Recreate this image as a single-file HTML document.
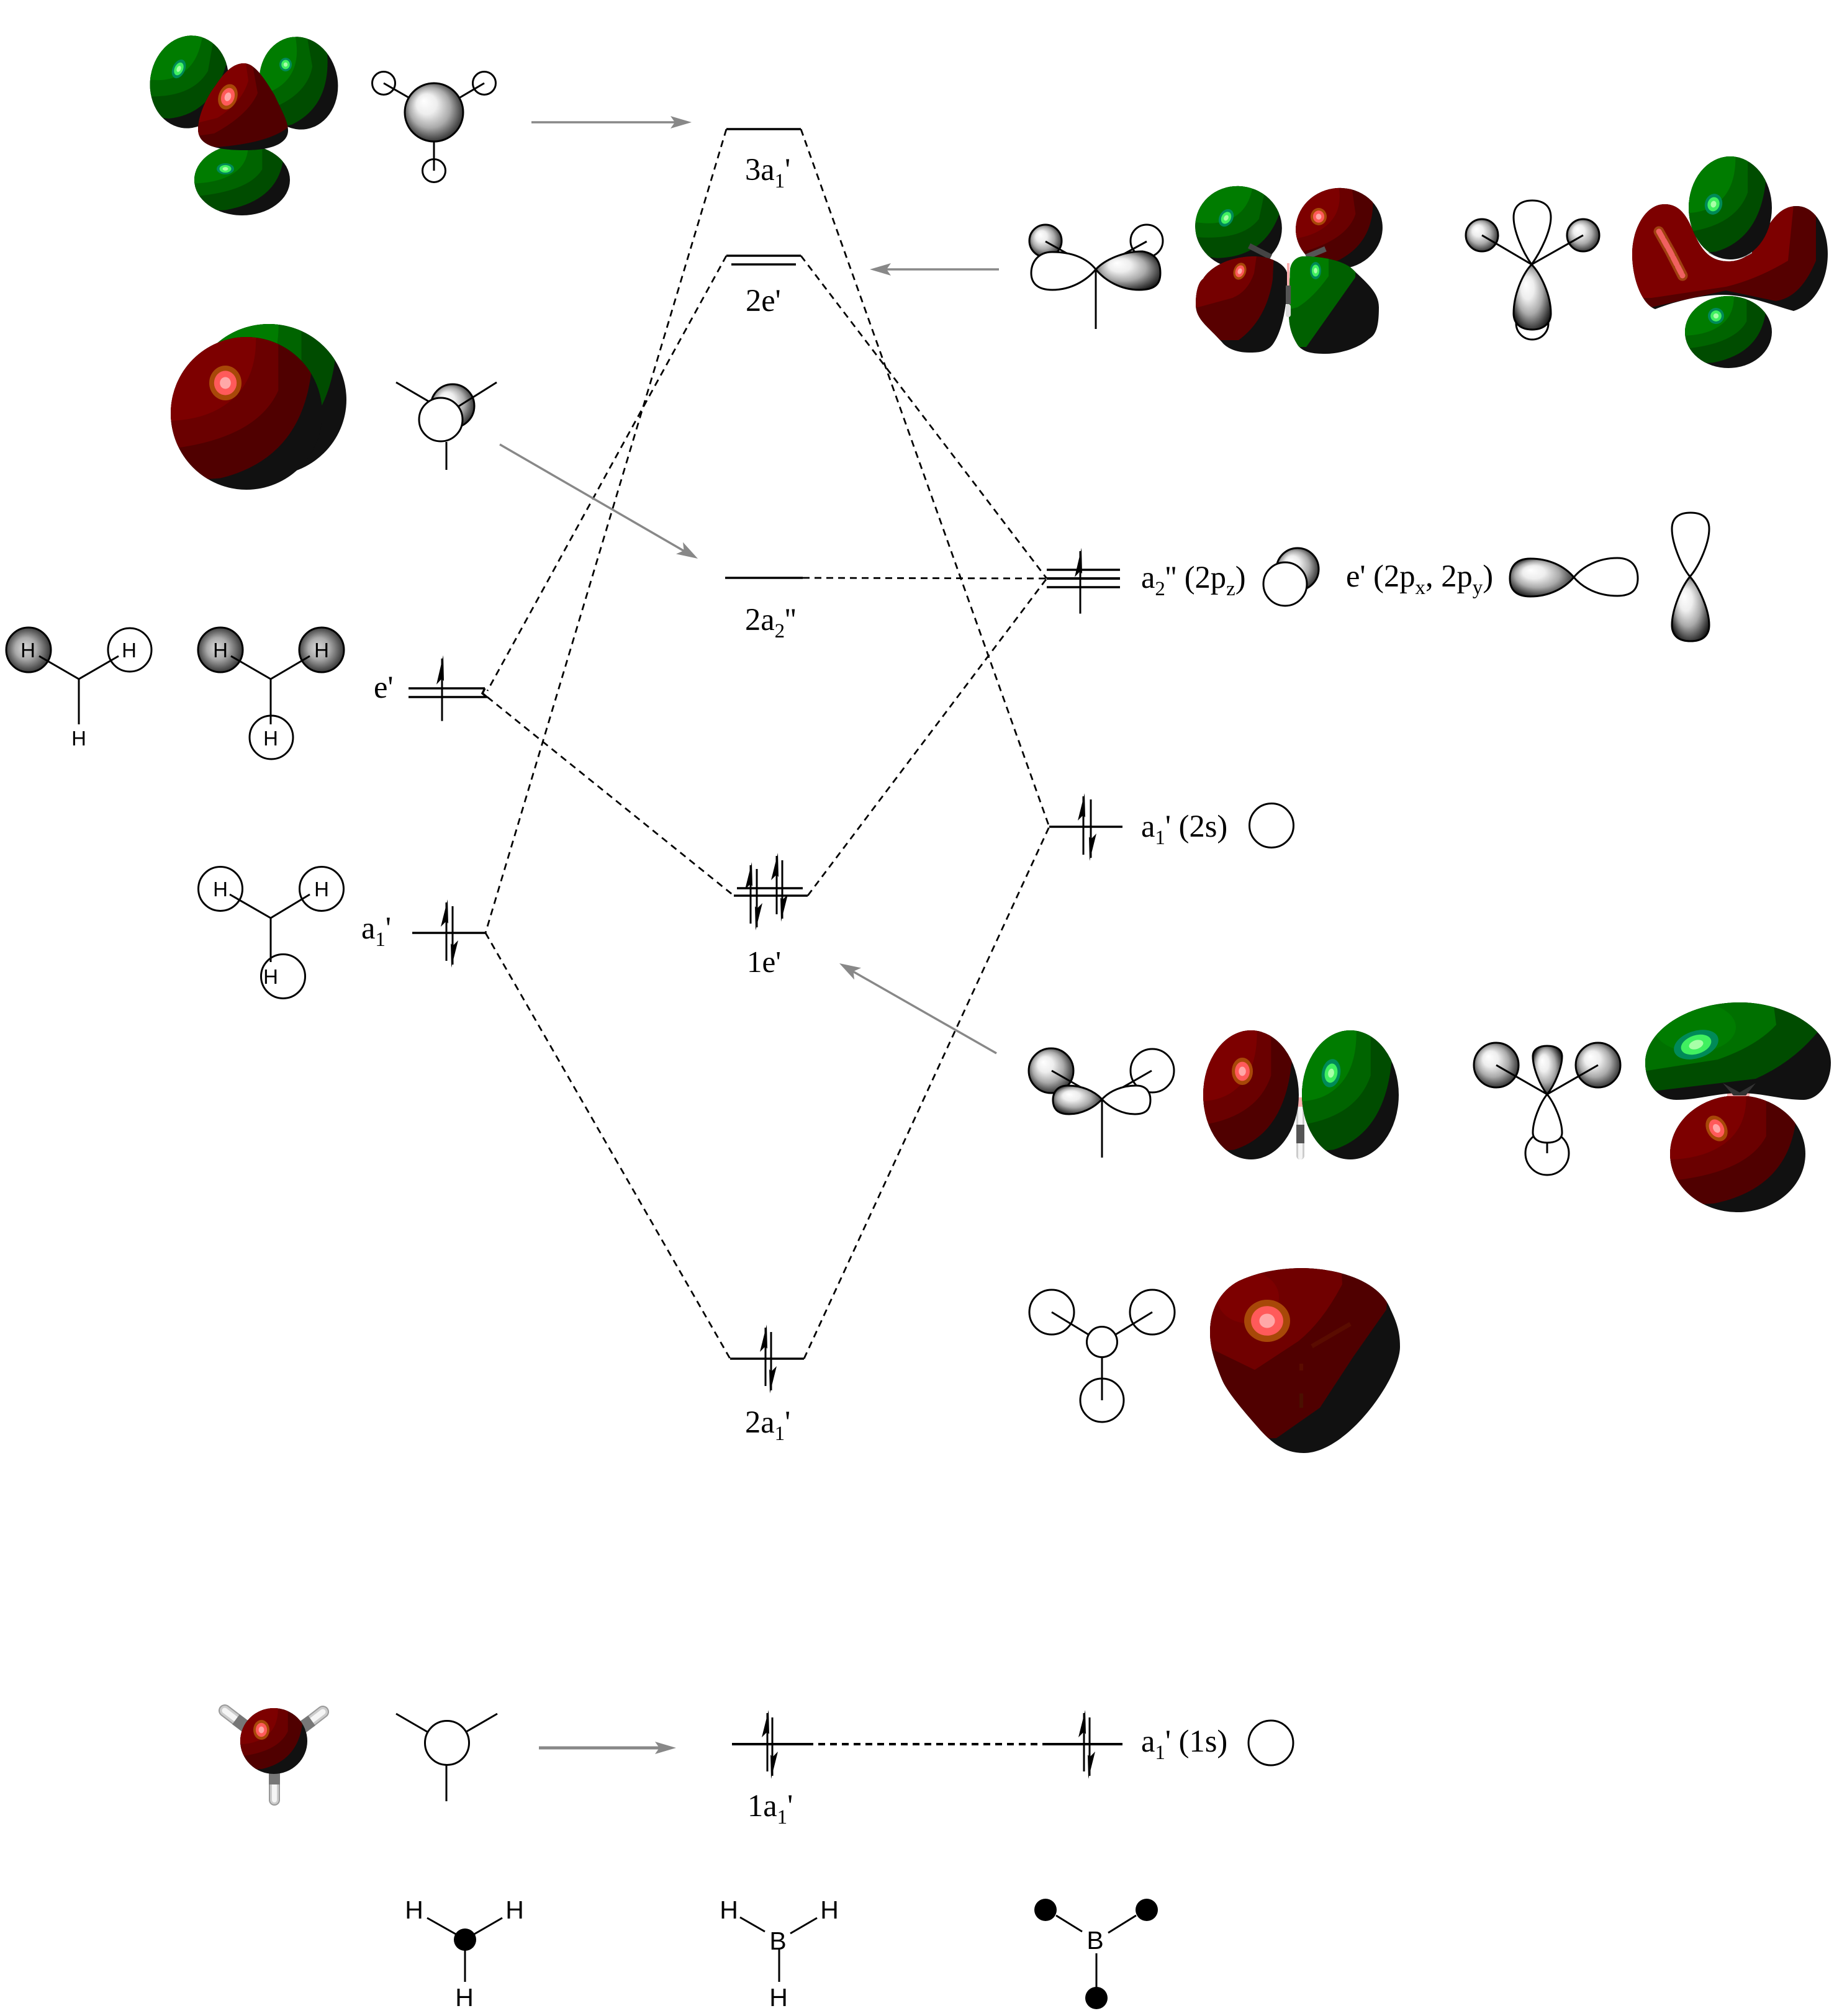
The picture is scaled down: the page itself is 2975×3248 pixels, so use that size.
<!DOCTYPE html>
<html>
<head>
<meta charset="utf-8">
<title>BH3 MO diagram</title>
<style>
html,body{margin:0;padding:0;background:#fff}
svg{display:block}
.t{font-family:"Liberation Serif",serif;font-size:50.5px;fill:#000}
.h{font-family:"Liberation Sans",sans-serif;font-size:33px;fill:#000;text-anchor:middle}
.H{font-family:"Liberation Sans",sans-serif;font-size:41px;fill:#000;text-anchor:middle}
.s{font-size:33px}
</style>
</head>
<body>
<svg width="2975" height="3248" viewBox="0 0 2975 3248" xmlns="http://www.w3.org/2000/svg">
<defs>
<radialGradient id="gw" cx=".5" cy=".5" r=".58" fx=".32" fy=".3">
<stop offset="0" stop-color="#fff"/><stop offset=".3" stop-color="#eee"/><stop offset=".6" stop-color="#aaa"/><stop offset=".86" stop-color="#444"/><stop offset="1" stop-color="#111"/>
</radialGradient>
<radialGradient id="gd" cx=".5" cy=".5" r=".6" fx=".4" fy=".45">
<stop offset="0" stop-color="#d8d8d8"/><stop offset=".4" stop-color="#aaa"/><stop offset=".8" stop-color="#444"/><stop offset="1" stop-color="#111"/>
</radialGradient>
<clipPath id="u"><circle r="1"/></clipPath>
<g id="G" clip-path="url(#u)">
<rect x="-1.1" y="-1.1" width="2.2" height="2.2" fill="#111"/>
<path d="M-1.1,-1.1 L.95,-1.1 L.85,-.5 Q.7,.6 -.35,.85 L-1.1,.9Z" fill="#004c00"/>
<path d="M-1.1,-1.1 L.42,-1.1 L.42,-.3 Q.15,.3 -.9,.45 L-1.1,.45Z" fill="#006400"/>
<path d="M-1.1,-1.1 L.12,-1.1 Q.17,-.4 -.3,-.1 Q-.6,.1 -1.1,.1Z" fill="#007c00"/>
</g>
<g id="R" clip-path="url(#u)">
<rect x="-1.1" y="-1.1" width="2.2" height="2.2" fill="#111"/>
<path d="M-1.1,-1.1 L.95,-1.1 L.85,-.5 Q.7,.6 -.35,.85 L-1.1,.9Z" fill="#500000"/>
<path d="M-1.1,-1.1 L.42,-1.1 L.42,-.3 Q.15,.3 -.9,.45 L-1.1,.45Z" fill="#6a0000"/>
<path d="M-1.1,-1.1 L.12,-1.1 Q.17,-.4 -.3,-.1 Q-.6,.1 -1.1,.1Z" fill="#7d0000"/>
</g>
<g id="gh"><circle r="1" fill="#008a58"/><circle r=".68" fill="#40f060"/><circle r=".32" fill="#a8ffa8"/></g>
<g id="rh"><circle r="1" fill="#a84808"/><circle r=".7" fill="#ff5a5a"/><circle r=".34" fill="#ffa8a8"/></g>
<g id="up">
<line x1="0" y1="0" x2="0" y2="94" stroke="#000" stroke-width="3"/>
<polygon points="2,-5 3,34 0,30 -9,39" fill="#000"/>
</g>
<clipPath id="c1"><path d="M393,102 C410,102 425,125 442,153 C452,175 464,195 464,210 C464,230 440,242 395,242 C350,242 319,235 319,208 C319,190 330,160 347,138 C360,118 375,102 393,102Z"/></clipPath>
<clipPath id="c2"><path d="M2681,329 C2650,329 2629,370 2629,409 C2629,450 2645,490 2666,498 C2700,485 2740,475 2775,475 C2815,475 2850,490 2889,501 C2925,490 2944,450 2944,409 C2944,370 2925,332 2894,332 C2865,332 2850,360 2837,383 C2825,410 2805,421 2784,421 C2760,421 2745,410 2732,383 C2720,355 2710,329 2681,329Z"/></clipPath>
<clipPath id="c3"><path d="M2100,2043 C2170,2045 2225,2070 2240,2110 C2252,2135 2255,2150 2255,2170 C2255,2220 2170,2341 2100,2341 C2065,2341 2045,2320 2030,2304 C2000,2270 1975,2240 1968,2222 C1955,2190 1949,2170 1949,2146 C1949,2110 1965,2080 1995,2064 C2025,2050 2060,2043 2100,2043Z"/></clipPath>
<clipPath id="c4"><path d="M2802,1615 C2880,1615 2949,1660 2949,1712 C2949,1745 2930,1771 2905,1772 C2870,1772 2840,1761 2802,1761 C2765,1761 2735,1772 2700,1772 C2670,1772 2650,1745 2650,1712 C2650,1660 2720,1615 2802,1615Z"/></clipPath>
<clipPath id="c5"><path d="M2021,413 C2045,413 2074,425 2074,445 C2074,480 2068,530 2050,555 C2040,568 2025,568 2012,568 C1990,568 1975,560 1968,551 C1945,525 1926,515 1926,490 C1926,470 1930,455 1938,449 C1950,430 1980,413 2021,413Z"/></clipPath>
<clipPath id="c6"><path d="M2100,413 C2130,413 2165,420 2179,434 C2200,455 2221,470 2221,495 C2221,530 2215,540 2205,546 C2190,560 2160,570 2135,570 C2115,570 2100,568 2091,557 C2080,540 2076,525 2076,505 C2076,470 2078,440 2078,434 C2080,420 2090,413 2100,413Z"/></clipPath>
</defs>

<rect width="2975" height="3248" fill="#fff"/>

<!-- correlation dashed lines -->
<g fill="none" stroke="#000" stroke-width="2.8" stroke-dasharray="11 8">
<line x1="1170" y1="208" x2="782" y2="1503"/>
<line x1="1290" y1="208" x2="1690" y2="1332"/>
<line x1="1170" y1="412" x2="785" y2="1113"/>
<line x1="1290" y1="412" x2="1686" y2="932"/>
<line x1="785" y1="1123" x2="1182" y2="1443"/>
<line x1="1301" y1="1443" x2="1686" y2="932"/>
<line x1="782" y1="1503" x2="1176" y2="2189"/>
<line x1="1295" y1="2189" x2="1690" y2="1332"/>
<line x1="1293" y1="931" x2="1686" y2="932"/>
<line x1="1299" y1="2810" x2="1681" y2="2810" stroke-width="4"/>
</g>

<!-- levels -->
<g stroke="#000" stroke-width="3.5" fill="none">
<line x1="1170" y1="208" x2="1290" y2="208"/>
<line x1="1170" y1="412" x2="1290" y2="412"/>
<line x1="1178" y1="426" x2="1282" y2="426"/>
<line x1="1168" y1="931" x2="1293" y2="931"/>
<line x1="1187" y1="1431" x2="1293" y2="1431"/>
<line x1="1182" y1="1443" x2="1301" y2="1443"/>
<line x1="1176" y1="2189" x2="1295" y2="2189"/>
<line x1="1179" y1="2810" x2="1299" y2="2810" stroke-width="4"/>
<line x1="1681" y1="2810" x2="1808" y2="2810" stroke-width="4"/>
<line x1="1686" y1="918" x2="1804" y2="918"/>
<line x1="1686" y1="932" x2="1804" y2="932" stroke-width="4"/>
<line x1="1686" y1="946" x2="1804" y2="946"/>
<line x1="1690" y1="1332" x2="1808" y2="1332"/>
<line x1="658" y1="1109" x2="781" y2="1109"/>
<polyline points="781,1109 777,1117 784,1123 658,1123"/>
<line x1="664" y1="1503" x2="782" y2="1503"/>
</g>

<!-- electrons -->
<use href="#up" transform="translate(712,1061) scale(1,1.07)"/>
<use href="#up" transform="translate(719,1454)"/>
<use href="#up" transform="translate(729,1554) rotate(180)"/>
<use href="#up" transform="translate(1209,1394)"/>
<use href="#up" transform="translate(1219,1494) rotate(180)"/>
<use href="#up" transform="translate(1251,1379)"/>
<use href="#up" transform="translate(1260,1480) rotate(180)"/>
<use href="#up" transform="translate(1233,2139)"/>
<use href="#up" transform="translate(1242,2240) rotate(180)"/>
<use href="#up" transform="translate(1236,2760)"/>
<use href="#up" transform="translate(1244,2861) rotate(180)"/>
<use href="#up" transform="translate(1746,2760)"/>
<use href="#up" transform="translate(1755,2861) rotate(180)"/>
<use href="#up" transform="translate(1740,888) scale(1,1.07)"/>
<use href="#up" transform="translate(1745,1283)"/>
<use href="#up" transform="translate(1757,1382) rotate(180)"/>

<!-- grey arrows -->
<g stroke="#888" stroke-width="3.5" fill="none">
<line x1="856" y1="197" x2="1090" y2="197"/>
<line x1="1609" y1="434" x2="1425" y2="434"/>
<line x1="805" y1="716" x2="1104" y2="889"/>
<line x1="1605" y1="1697" x2="1372" y2="1564"/>
<line x1="868" y1="2816" x2="1065" y2="2816" stroke-width="5"/>
</g>
<g fill="#888">
<polygon points="1114,197 1080,187 1087,197 1080,207"/>
<polygon points="1401,434 1435,424 1428,434 1435,444"/>
<polygon points="1124,900 1089,892.5 1101.5,887 1100,873.5"/>
<polygon points="1352,1552 1387,1559.4 1374.6,1565 1376,1578.4"/>
<polygon points="1089,2816 1055,2806 1062,2816 1055,2826"/>
</g>

<!-- text labels -->
<text class="t" x="1200" y="290">3a<tspan class="s" dy="12">1</tspan><tspan dy="-12">'</tspan></text>
<text class="t" x="1201" y="501">2e'</text>
<text class="t" x="1200" y="1015">2a<tspan class="s" dy="12">2</tspan><tspan dy="-12">''</tspan></text>
<text class="t" x="1203" y="1566" style="font-size:49px">1e'</text>
<text class="t" x="1200" y="2308">2a<tspan class="s" dy="12">1</tspan><tspan dy="-12">'</tspan></text>
<text class="t" x="1204" y="2926">1a<tspan class="s" dy="12">1</tspan><tspan dy="-12">'</tspan></text>
<text class="t" x="602" y="1124">e'</text>
<text class="t" x="582" y="1512">a<tspan class="s" dy="12">1</tspan><tspan dy="-12">'</tspan></text>
<text class="t" x="1838" y="947">a<tspan class="s" dy="12">2</tspan><tspan dy="-12">'' (2p</tspan><tspan class="s" dy="12">z</tspan><tspan dy="-12">)</tspan></text>
<text class="t" x="2168" y="945">e' (2p<tspan class="s" dy="12">x</tspan><tspan dy="-12">, 2p</tspan><tspan class="s" dy="12">y</tspan><tspan dy="-12">)</tspan></text>
<text class="t" x="1838" y="1348">a<tspan class="s" dy="12">1</tspan><tspan dy="-12">' (2s)</tspan></text>
<text class="t" x="1838" y="2822">a<tspan class="s" dy="12">1</tspan><tspan dy="-12">' (1s)</tspan></text>

<!-- 3a1' isosurface -->
<use href="#G" transform="translate(305,132) rotate(10) scale(63,75)"/>
<use href="#gh" transform="translate(288,111) rotate(25) scale(10,16)"/>
<use href="#G" transform="translate(481,134) rotate(-10) scale(63,75)"/>
<use href="#gh" transform="translate(460,104) scale(10,11)"/>
<use href="#G" transform="translate(390,290) scale(77,57)"/>
<use href="#gh" transform="translate(363,272) scale(14,9)"/>
<g clip-path="url(#c1)">
<rect x="300" y="90" width="180" height="170" fill="#111"/>
<path d="M310,95 L420,95 L470,200 Q440,230 350,237 L310,240Z" fill="#500000"/>
<path d="M310,95 L405,95 L415,150 Q400,185 345,215 L310,220Z" fill="#6b0000"/>
<path d="M310,95 L395,95 L400,130 Q390,165 350,190 L310,200Z" fill="#800000"/>
<use href="#rh" transform="translate(367,156) rotate(20) scale(15,21)"/>
</g>

<!-- 3a1' schematic -->
<g fill="none" stroke="#000" stroke-width="3">
<circle cx="618" cy="134" r="18.5"/><circle cx="780" cy="134" r="18.5"/><circle cx="699" cy="275" r="18.5"/>
<line x1="618" y1="134" x2="658" y2="157"/><line x1="780" y1="134" x2="741" y2="157"/><line x1="699" y1="228" x2="699" y2="275"/>
</g>
<circle cx="699" cy="181" r="47" fill="url(#gw)" stroke="#000" stroke-width="3"/>

<!-- 2a2'' isosurface -->
<use href="#G" transform="translate(433,644) scale(125,122)"/>
<use href="#R" transform="translate(397,666) scale(122,123)"/>
<use href="#rh" transform="translate(363,617) scale(26,28)"/>

<!-- 2a2'' schematic -->
<circle cx="729" cy="654" r="35" fill="url(#gw)" stroke="#000" stroke-width="3"/>
<g stroke="#000" stroke-width="3" fill="none">
<line x1="638" y1="616" x2="691" y2="647"/><line x1="800" y1="616" x2="738" y2="655"/><line x1="719" y1="712" x2="719" y2="757"/>
</g>
<circle cx="710" cy="676" r="35" fill="#fff" stroke="#000" stroke-width="3"/>

<!-- H3 fragments -->
<circle cx="46" cy="1047" r="36" fill="url(#gd)" stroke="#000" stroke-width="3"/>
<circle cx="209" cy="1047" r="35" fill="none" stroke="#000" stroke-width="3"/>
<circle cx="355" cy="1047" r="36" fill="url(#gd)" stroke="#000" stroke-width="3"/>
<circle cx="518" cy="1047" r="36" fill="url(#gd)" stroke="#000" stroke-width="3"/>
<circle cx="437" cy="1188" r="35" fill="none" stroke="#000" stroke-width="3"/>
<circle cx="355" cy="1432" r="35.5" fill="none" stroke="#000" stroke-width="3"/>
<circle cx="518" cy="1432" r="35.5" fill="none" stroke="#000" stroke-width="3"/>
<circle cx="456" cy="1573" r="35.5" fill="none" stroke="#000" stroke-width="3"/>
<g stroke="#000" stroke-width="3" fill="none">
<polyline points="63,1057 127,1094 191,1057"/><line x1="127" y1="1094" x2="127" y2="1167"/>
<polyline points="372,1057 436,1094 499,1057"/><line x1="436" y1="1094" x2="436" y2="1167"/>
<polyline points="370,1441 436,1479 499,1441"/><line x1="436" y1="1479" x2="436" y2="1550"/>
</g>
<text class="h" x="45" y="1059">H</text><text class="h" x="208" y="1059">H</text><text class="h" x="127" y="1201">H</text>
<text class="h" x="355" y="1059">H</text><text class="h" x="518" y="1059">H</text><text class="h" x="436" y="1201">H</text>
<text class="h" x="355" y="1444">H</text><text class="h" x="518" y="1444">H</text><text class="h" x="436" y="1585">H</text>

<!-- 2e' schematic 1 -->
<circle cx="1684" cy="388" r="26" fill="url(#gw)" stroke="#000" stroke-width="3"/>
<circle cx="1847" cy="388" r="26" fill="none" stroke="#000" stroke-width="3"/>
<g stroke="#000" stroke-width="3" fill="none">
<polyline points="1684,389 1765,434 1847,389"/><line x1="1765" y1="434" x2="1765" y2="530"/>
</g>
<path d="M1765,434 C1750,415 1725,406 1695,406 C1670,406 1661,425 1661,440 C1661,455 1670,467 1695,467 C1725,467 1750,452 1765,434Z" fill="#fff" stroke="#000" stroke-width="3"/>
<path d="M1765,434 C1780,418 1810,405 1840,405 C1860,408 1869,420 1869,440 C1869,458 1860,467 1835,467 C1805,467 1780,452 1765,434Z" fill="url(#gw)" stroke="#000" stroke-width="3"/>

<!-- 2e' isosurface 1 -->
<use href="#G" transform="translate(1995,366) rotate(12) scale(70,66)"/>
<use href="#gh" transform="translate(1975,351) rotate(30) scale(11,15)"/>
<use href="#R" transform="translate(2157,368) rotate(-8) scale(70,65)"/>
<use href="#rh" transform="translate(2124,349) scale(13,14)"/>
<line x1="2012" y1="396" x2="2047" y2="414" stroke="#444" stroke-width="9"/>
<line x1="2135" y1="401" x2="2104" y2="414" stroke="#555" stroke-width="9"/>
<g clip-path="url(#c5)">
<rect x="1920" y="405" width="160" height="170" fill="#111"/>
<path d="M1920,405 L2052,405 L2050,450 Q2040,515 1995,548 L1960,548 L1920,520Z" fill="#580000"/>
<path d="M1920,405 L2025,405 L2020,440 Q2010,470 1985,480 L1930,495 L1920,495Z" fill="#750000"/>
<use href="#rh" transform="translate(1997,437) rotate(20) scale(10,14)"/>
</g>
<g clip-path="url(#c6)">
<rect x="2070" y="405" width="160" height="170" fill="#111"/>
<path d="M2070,405 L2185,405 L2183,447 L2104,559 L2092,559 L2070,530Z" fill="#006000"/>
<path d="M2070,405 L2140,405 L2140,445 Q2115,480 2090,495 L2070,500Z" fill="#007c00"/>
<use href="#gh" transform="translate(2119,436) scale(9,14)"/>
</g>
<rect x="2073" y="424" width="4" height="36" fill="#ffb0b0"/>
<rect x="2071" y="460" width="8" height="30" fill="#555"/>
<rect x="2071" y="490" width="8" height="21" rx="4" fill="#ddd"/>

<!-- 2e' schematic 2 -->
<circle cx="2387" cy="379" r="26" fill="url(#gw)" stroke="#000" stroke-width="3"/>
<circle cx="2550" cy="379" r="26" fill="url(#gw)" stroke="#000" stroke-width="3"/>
<circle cx="2468" cy="521" r="26" fill="none" stroke="#000" stroke-width="3"/>
<g stroke="#000" stroke-width="3" fill="none">
<polyline points="2387,379 2467,426 2550,379"/>
</g>
<path d="M2467,426 C2452,405 2438,372 2438,350 C2438,330 2452,323 2468,323 C2484,323 2498,330 2498,350 C2498,372 2482,405 2467,426Z" fill="#fff" stroke="#000" stroke-width="3"/>
<path d="M2467,426 C2482,442 2498,475 2498,505 C2498,522 2485,531 2468,531 C2450,531 2438,522 2438,505 C2438,475 2452,442 2467,426Z" fill="url(#gw)" stroke="#000" stroke-width="3"/>

<!-- 2e' isosurface 2 -->
<g clip-path="url(#c2)">
<rect x="2620" y="320" width="330" height="190" fill="#111"/>
<path d="M2620,320 L2925,320 L2925,420 Q2900,480 2860,485 L2780,468 L2660,495 L2620,495Z" fill="#550000"/>
<path d="M2620,320 L2890,320 L2880,420 Q2830,450 2780,462 L2660,480 L2620,480Z" fill="#7d0000"/>
<path d="M2672,373 L2690,405 L2710,444" fill="none" stroke="#a04010" stroke-width="17" stroke-linecap="round"/>
<path d="M2672,373 L2690,405 L2710,444" fill="none" stroke="#f06060" stroke-width="9" stroke-linecap="round" stroke-dasharray="12 4"/>
</g>
<path d="M2752,390 Q2784,440 2822,390 L2822,408 Q2790,428 2752,408Z" fill="#aaa"/>
<use href="#G" transform="translate(2787,335) scale(67,83)"/>
<use href="#gh" transform="translate(2760,329) rotate(15) scale(14,17)"/>
<use href="#G" transform="translate(2784,535) scale(70,58)"/>
<use href="#gh" transform="translate(2764,509) scale(13,13)"/>

<!-- a2'' p orbital -->
<circle cx="2090" cy="917" r="34" fill="url(#gw)" stroke="#000" stroke-width="3"/>
<circle cx="2070" cy="941" r="35" fill="#fff" stroke="#000" stroke-width="3"/>
<path d="M2535,930 C2520,912 2495,900 2465,900 C2440,900 2432,915 2432,932 C2432,950 2442,961 2465,961 C2495,961 2520,948 2535,930Z" fill="url(#gw)" stroke="#000" stroke-width="3"/>
<path d="M2535,930 C2550,912 2575,899 2605,899 C2630,899 2638,915 2638,932 C2638,950 2628,960 2605,960 C2575,960 2550,948 2535,930Z" fill="#fff" stroke="#000" stroke-width="3"/>
<path d="M2722,929 C2708,912 2693,875 2693,852 C2693,833 2706,826 2723,826 C2740,826 2753,833 2753,852 C2753,875 2737,912 2722,929Z" fill="#fff" stroke="#000" stroke-width="3"/>
<path d="M2722,929 C2737,946 2753,983 2753,1007 C2753,1026 2740,1033 2723,1033 C2706,1033 2693,1026 2693,1007 C2693,983 2708,946 2722,929Z" fill="url(#gw)" stroke="#000" stroke-width="3"/>
<circle cx="2048" cy="1330" r="35.5" fill="none" stroke="#000" stroke-width="3"/>

<!-- 1e' schematic 1 -->
<circle cx="1693" cy="1725" r="36" fill="url(#gw)" stroke="#000" stroke-width="3"/>
<circle cx="1856" cy="1725" r="35" fill="none" stroke="#000" stroke-width="3"/>
<g stroke="#000" stroke-width="3" fill="none">
<polyline points="1694,1725 1775,1771 1855,1725"/><line x1="1775" y1="1771" x2="1775" y2="1865"/>
</g>
<path d="M1775,1771 C1762,1757 1742,1749 1720,1749 C1703,1749 1696,1760 1696,1772 C1696,1788 1705,1795 1722,1795 C1742,1795 1762,1785 1775,1771Z" fill="url(#gw)" stroke="#000" stroke-width="3"/>
<path d="M1775,1771 C1788,1757 1808,1749 1830,1749 C1847,1749 1853,1760 1853,1772 C1853,1788 1845,1795 1828,1795 C1808,1795 1788,1785 1775,1771Z" fill="#fff" stroke="#000" stroke-width="3"/>

<!-- 1e' isosurface 1 -->
<rect x="2088" y="1768" width="13" height="100" rx="6" fill="#ccc"/>
<rect x="2091" y="1768" width="7" height="100" rx="3" fill="#f5f5f5"/>
<rect x="2088" y="1768" width="13" height="15" fill="#ffb0b0"/>
<rect x="2088" y="1812" width="13" height="30" fill="#555"/>
<use href="#R" transform="translate(2015,1764) scale(77,104)"/>
<use href="#rh" transform="translate(2001,1726) scale(17,22)"/>
<use href="#G" transform="translate(2175,1764) scale(78,104)"/>
<use href="#gh" transform="translate(2144,1729) rotate(10) scale(15,23)"/>

<!-- 1e' schematic 2 -->
<circle cx="2410" cy="1716" r="36" fill="url(#gw)" stroke="#000" stroke-width="3"/>
<circle cx="2574" cy="1716" r="36" fill="url(#gw)" stroke="#000" stroke-width="3"/>
<circle cx="2492" cy="1858" r="35" fill="none" stroke="#000" stroke-width="3"/>
<g stroke="#000" stroke-width="3" fill="none">
<polyline points="2410,1716 2492,1763 2574,1716"/><line x1="2492" y1="1841" x2="2492" y2="1858"/>
</g>
<path d="M2492,1763 C2480,1748 2469,1720 2469,1702 C2469,1690 2480,1685 2492,1685 C2505,1685 2516,1690 2516,1702 C2516,1720 2504,1748 2492,1763Z" fill="url(#gw)" stroke="#000" stroke-width="3"/>
<path d="M2492,1763 C2504,1778 2516,1806 2516,1825 C2516,1836 2505,1841 2492,1841 C2480,1841 2469,1836 2469,1825 C2469,1806 2480,1778 2492,1763Z" fill="#fff" stroke="#000" stroke-width="3"/>

<!-- 1e' isosurface 2 -->
<use href="#R" transform="translate(2799,1859) scale(109,94)"/>
<use href="#rh" transform="translate(2765,1818) rotate(-30) scale(16,22)"/>
<rect x="2782" y="1758" width="36" height="8" fill="#ffb0b0"/>
<g clip-path="url(#c4)">
<rect x="2640" y="1605" width="320" height="175" fill="#111"/>
<path d="M2640,1605 L2940,1605 L2929,1661 Q2890,1710 2828,1738 L2679,1756 L2640,1760Z" fill="#004c00"/>
<path d="M2640,1605 L2855,1605 L2861,1651 Q2830,1685 2767,1707 L2653,1725 L2640,1725Z" fill="#007000"/>
<ellipse cx="2730" cy="1655" rx="66" ry="40" fill="#007c00"/>
<use href="#gh" transform="translate(2732,1683) rotate(-18) scale(37,22)"/>
</g>
<path d="M2775,1745 L2802,1760 L2828,1745 L2812,1765 L2792,1765Z" fill="#333"/>

<!-- 2a1' schematic -->
<g stroke="#000" stroke-width="3" fill="none">
<circle cx="1694" cy="2114" r="36"/><circle cx="1856" cy="2114" r="36"/>
<circle cx="1775" cy="2162" r="24.5"/><circle cx="1775" cy="2256" r="35"/>
<line x1="1694" y1="2114" x2="1753" y2="2150"/><line x1="1856" y1="2114" x2="1797" y2="2150"/>
<line x1="1775" y1="2187" x2="1775" y2="2256"/>
</g>

<!-- 2a1' isosurface -->
<g clip-path="url(#c3)">
<rect x="1940" y="2030" width="330" height="320" fill="#111"/>
<path d="M1940,2030 L2240,2030 L2233,2110 L2179,2187 L2126,2268 L2056,2317 L1960,2320Z" fill="#500000"/>
<path d="M1940,2030 L2160,2030 L2162,2069 Q2130,2130 2091,2161 L2021,2207 L1945,2170Z" fill="#700000"/>
<ellipse cx="2010" cy="2090" rx="50" ry="42" fill="#7d0000"/>
<use href="#rh" transform="translate(2041,2128) scale(37,34)"/>
<line x1="2113" y1="2169" x2="2175" y2="2133" stroke="#5a0c00" stroke-width="7"/>
<line x1="2096" y1="2197" x2="2096" y2="2208" stroke="#5a0c00" stroke-width="6"/>
<line x1="2096" y1="2245" x2="2096" y2="2268" stroke="#4a1000" stroke-width="6"/>
</g>

<!-- 1a1' isosurface -->
<g stroke-linecap="round">
<line x1="362" y1="2756" x2="400" y2="2785" stroke="#999" stroke-width="20"/>
<line x1="520" y1="2758" x2="485" y2="2785" stroke="#999" stroke-width="20"/>
<line x1="442" y1="2855" x2="442" y2="2900" stroke="#999" stroke-width="18"/>
<line x1="362" y1="2756" x2="400" y2="2785" stroke="#ccc" stroke-width="16"/>
<line x1="520" y1="2758" x2="485" y2="2785" stroke="#ccc" stroke-width="16"/>
<line x1="442" y1="2855" x2="442" y2="2900" stroke="#ccc" stroke-width="14"/>
<line x1="362" y1="2756" x2="400" y2="2785" stroke="#f5f5f5" stroke-width="9"/>
<line x1="520" y1="2758" x2="485" y2="2785" stroke="#f5f5f5" stroke-width="9"/>
<line x1="442" y1="2855" x2="442" y2="2900" stroke="#f5f5f5" stroke-width="8"/>
</g>
<rect x="433" y="2855" width="18" height="20" fill="#777"/>
<line x1="380" y1="2770" x2="396" y2="2782" stroke="#777" stroke-width="20"/>
<line x1="502" y1="2772" x2="488" y2="2782" stroke="#777" stroke-width="20"/>
<use href="#R" transform="translate(441,2805) scale(54,53)"/>
<use href="#rh" transform="translate(421,2787) scale(13,16)"/>

<!-- 1a1' schematic -->
<g stroke="#000" stroke-width="3" fill="none">
<circle cx="720" cy="2808" r="35.5"/>
<line x1="638" y1="2761" x2="688" y2="2790"/><line x1="801" y1="2761" x2="751" y2="2790"/><line x1="719" y1="2844" x2="719" y2="2902"/>
<circle cx="2047" cy="2808" r="36"/>
</g>

<!-- bottom structures -->
<g stroke="#000" stroke-width="3" fill="none">
<line x1="688" y1="3090" x2="734" y2="3116"/><line x1="809" y1="3090" x2="764" y2="3116"/><line x1="749" y1="3142" x2="749" y2="3193"/>
<line x1="1192" y1="3089" x2="1232" y2="3112"/><line x1="1316" y1="3090" x2="1273" y2="3115"/><line x1="1255" y1="3140" x2="1255" y2="3193"/>
<line x1="1701" y1="3086" x2="1743" y2="3112"/><line x1="1830" y1="3086" x2="1785" y2="3114"/><line x1="1766" y1="3147" x2="1766" y2="3202"/>
</g>
<circle cx="749" cy="3125" r="18" fill="#000"/>
<circle cx="1684" cy="3077" r="18" fill="#000"/>
<circle cx="1847" cy="3077" r="18" fill="#000"/>
<circle cx="1766" cy="3219" r="18" fill="#000"/>
<text class="H" x="667" y="3091">H</text><text class="H" x="829" y="3091">H</text><text class="H" x="748" y="3232">H</text>
<text class="H" x="1174" y="3091">H</text><text class="H" x="1336" y="3091">H</text><text class="H" x="1254" y="3232">H</text>
<text class="H" x="1253" y="3141">B</text><text class="H" x="1764" y="3140">B</text>
</svg>
</body>
</html>
